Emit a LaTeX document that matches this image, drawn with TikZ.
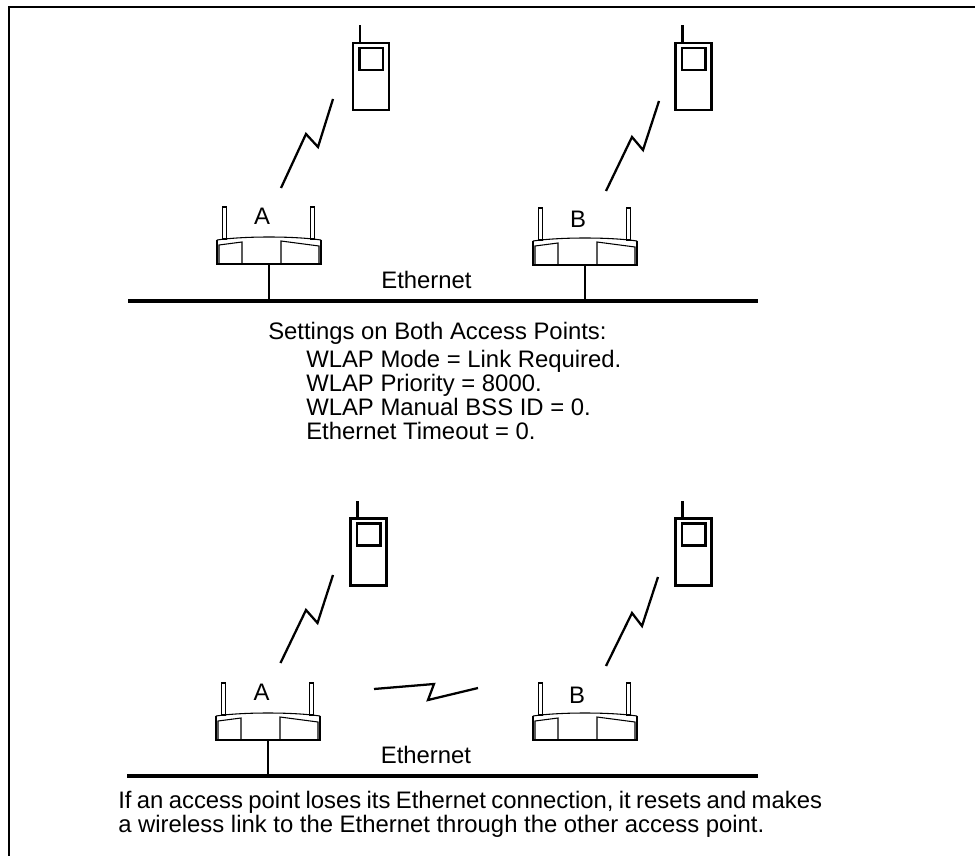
\documentclass[tikz,border=0pt]{standalone}
\usepackage{fontspec}
\setmainfont{Liberation Sans}
\tikzset{
  wire/.style={line width=1.6pt},
  bolt/.style={line width=1.7pt},
  thinwire/.style={line width=0.8pt},
  stem/.style={line width=2.2pt},
  bus/.style={line width=2.5pt},
  lbl/.style={inner sep=0pt, anchor=base, font=\fontsize{17.9}{18}\selectfont},
  para/.style={lbl, align=left, anchor=base west},
  ap/.pic={
    % Caixa e tampa curva
    \draw[wire] (-52,0) -- (-52,-24) -- (52,-24) -- (52,0);
    \draw[thinwire] (-52,0) .. controls (-25,4) and (25,4) .. (52,0);
    % Antenas
    \draw[line width=1.2pt] (-46.5,1) rectangle (-42.5,33);
    \draw[line width=1.2pt] (41.5,1) rectangle (45.5,33);
    % Paineis frontais
    \draw[thinwire] (-50,-24) -- (-50,-5) -- (-27,-2) -- (-27,-24);
    \draw[thinwire] (50,-24) -- (50,-6) -- (12,-1) -- (12,-24);
    \coordinate (-base) at (0,-24);
  },
  phone/.pic={
    \draw[wire] (0,0) rectangle (36,-67);
    \draw[wire] (6.5,-5) rectangle (30,-27);
    \draw[stem] (7,0) -- (7,18);
  }
}
\begin{document}
\begin{tikzpicture}[x=0.75pt, y=-0.75pt, line join=miter]
  \useasboundingbox (0,0) rectangle (975,856);

  % Moldura
  \draw[line width=1.5pt] (9,856) -- (9,7) -- (975,7);

  % Metade de cima
  \pic[yscale=-1] (apA) at (269,240) {ap};
  \pic[yscale=-1] (apB) at (585,241) {ap};
  \node[lbl] (lblA) at (262,224) {A};
  \node[lbl] (lblB) at (578,227) {B};
  \coordinate (busL) at (128,301);
  \coordinate (busR) at (758,301);
  \draw[bus] (busL) -- (busR);
  \coordinate (tapA) at (269,301);
  \coordinate (tapB) at (585,303);
  \draw[stem] (apA-base) -- (tapA);
  \draw[stem] (apB-base) -- (tapB);
  \node[lbl] (eth) at (426.5,288) {Ethernet};

  \pic[yscale=-1] (phA) at (353,43) {phone};
  \pic[yscale=-1] (phB) at (675.5,43) {phone};
  \draw[bolt] (281,188) -- (306,134) -- (318,147) -- (333,99);
  \draw[bolt] (606,191) -- (632,137) -- (643,150) -- (659,101);

  \node[para] (settings) at (268,339) {Settings on Both Access Points:};
  \node[para] (values) at (306,439) {WLAP Mode = Link Required.\\WLAP Priority = 8000.\\WLAP Manual BSS ID = 0.\\Ethernet Timeout = 0.};

  % Metade de baixo
  \pic[yscale=-1] (apC) at (268,716) {ap};
  \pic[yscale=-1] (apD) at (585,716) {ap};
  \node[lbl] (lblC) at (261.5,700) {A};
  \node[lbl] (lblD) at (577,703) {B};
  \coordinate (busL2) at (127,776);
  \coordinate (busR2) at (758,776);
  \draw[bus] (busL2) -- (busR2);
  \coordinate (tapC) at (268,776);
  \draw[stem] (apC-base) -- (tapC);
  \node[lbl] (eth2) at (426,763) {Ethernet};

  \pic[yscale=-1] (phC) at (350.5,518.5) {phone};
  \pic[yscale=-1] (phD) at (675.5,518.5) {phone};
  \draw[bolt] (280.5,663) -- (306,610) -- (317.5,623) -- (333,575);
  \draw[bolt] (606,666) -- (632,613) -- (642,626) -- (658,577);
  \draw[bolt] (374,689) -- (434,684) -- (428,700) -- (478,688);

  \node[para] (note) at (118,832) {\spaceskip=0.225em If an access point loses its Ethernet connection, it resets and makes\\\spaceskip=0pt a wireless link to the Ethernet through the other access point.};
\end{tikzpicture}
\end{document}
